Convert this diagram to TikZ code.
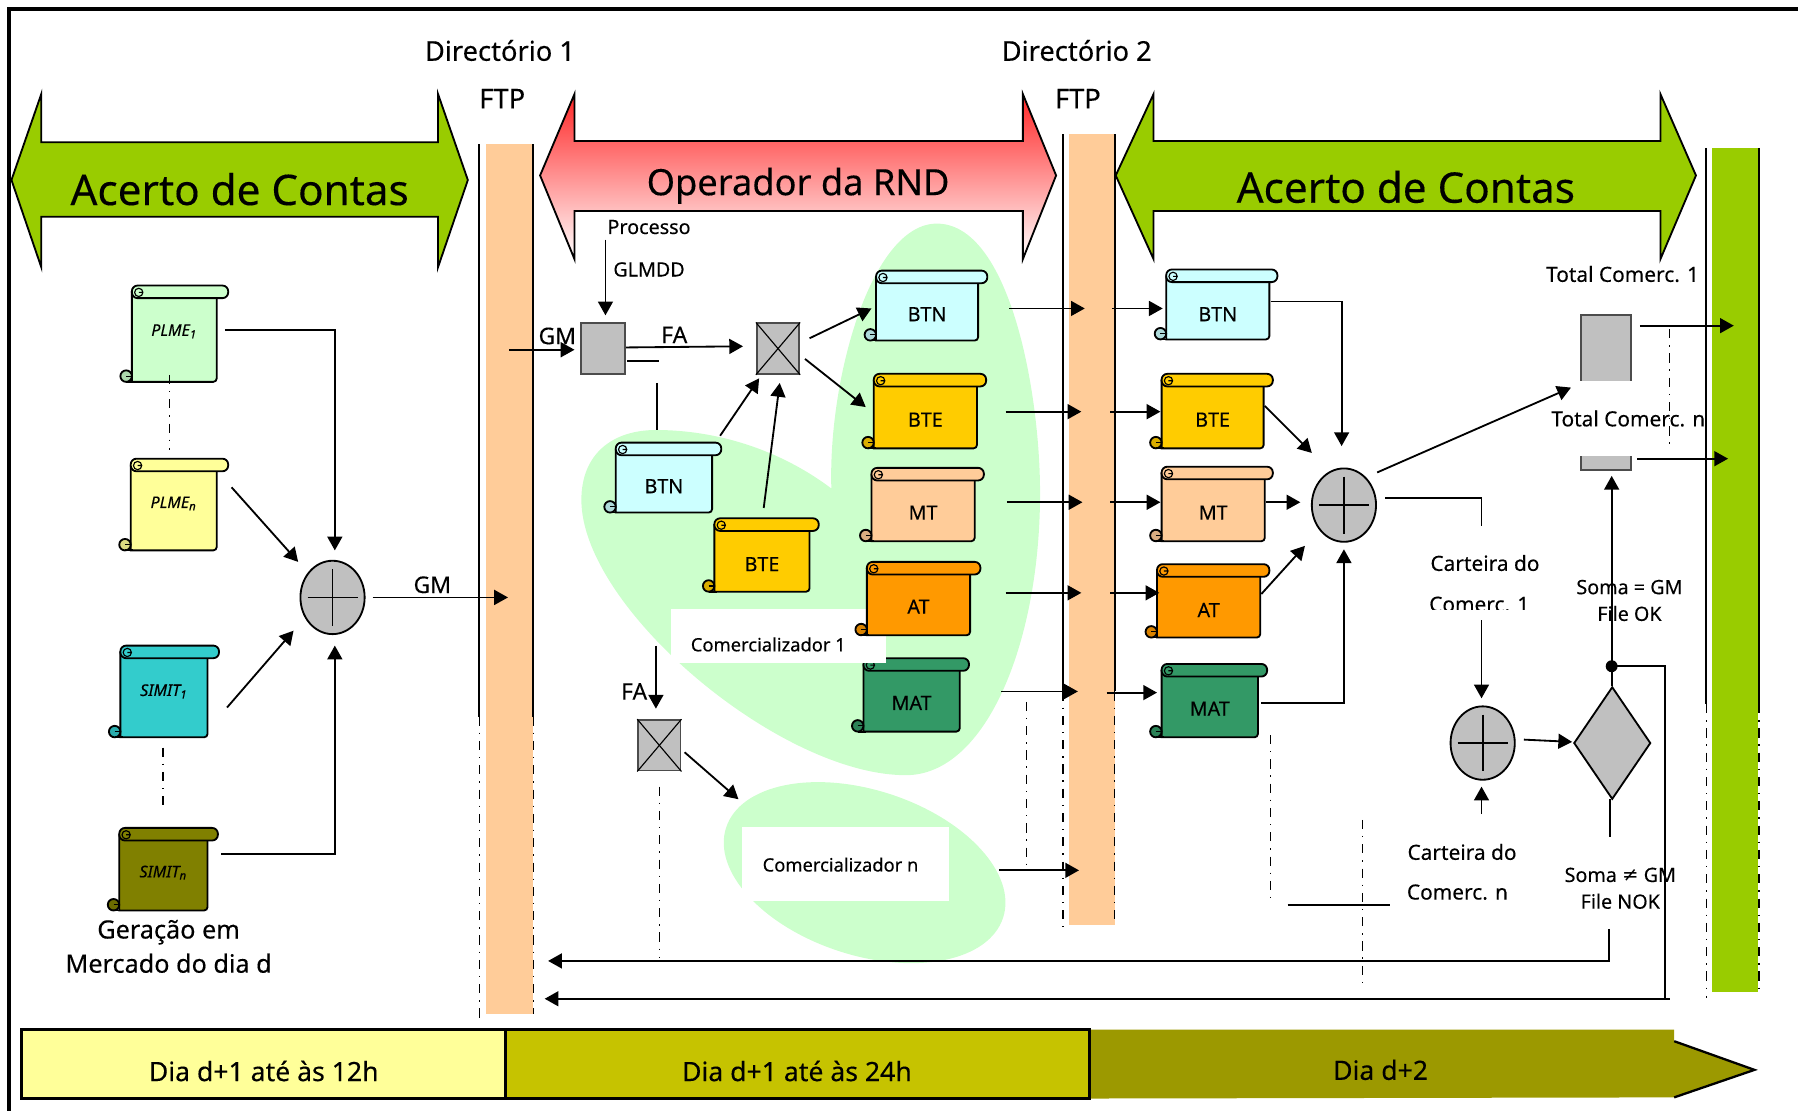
\documentclass[tikz,border=0pt]{standalone}
\usepackage{fontspec}
\setmainfont{Noto Sans}[FakeBold=.25]
\newfontfamily\symfont{DejaVu Sans}
\usepackage{xcolor}
\usetikzlibrary{arrows.meta}
\usetikzlibrary{shapes.geometric}

\definecolor{bargreen}{HTML}{99CC00}
\definecolor{barorange}{HTML}{FFCC99}
\definecolor{blobgreen}{HTML}{CCFFCC}
\definecolor{boxgray}{HTML}{C0C0C0}
\definecolor{btncol}{HTML}{CCFFFF}
\definecolor{btecol}{HTML}{FFCC00}
\definecolor{atcol}{HTML}{FF9900}
\definecolor{matcol}{HTML}{339966}
\definecolor{paleyellow}{HTML}{FFFF99}
\definecolor{simitteal}{HTML}{33CCCC}
\definecolor{simitolive}{HTML}{808000}
\definecolor{dayolive}{HTML}{C6C300}
\definecolor{daydark}{HTML}{9C9900}

\newcommand{\scrollfont}{\fontsize{8.6}{10}\selectfont}
\newcommand{\sourcefont}{\fontsize{7}{9}\selectfont\itshape}

\tikzset{
	flow/.style={-{Triangle[length=6pt,width=6.5pt]},line width=.8pt},
	plainline/.style={line width=.8pt},
	dashdot/.style={line width=.6pt,dash pattern=on 4pt off 3pt on .6pt off 3pt},
	barline/.style={line width=.8pt},
	banner/.style={draw=black,line width=.8pt},
	lbl/.style={inner sep=0pt,align=center},
	biglbl/.style={lbl,font=\fontsize{18.4}{20}\selectfont},
	oplbl/.style={lbl,font=\fontsize{15.8}{18}\selectfont},
	dirlbl/.style={lbl,font=\fontsize{11.9}{14}\selectfont},
	midlbl/.style={lbl,font=\fontsize{11}{13}\selectfont},
	smalllbl/.style={lbl,font=\fontsize{8.6}{10}\selectfont},
	notelbl/.style={lbl,font=\fontsize{9.1}{11}\selectfont},
	tinylbl/.style={lbl,font=\fontsize{8}{10}\selectfont},
	daylbl/.style={lbl,font=\fontsize{11.6}{13}\selectfont},
	flowlbl/.style={lbl,font=\fontsize{10}{12}\selectfont},
	scrollline/.style={draw=black,line width=.8pt},
	graybox/.style={draw=black!70,fill=boxgray,line width=.8pt,inner sep=0pt},
	sumnode/.style={ellipse,draw=black,fill=boxgray,line width=.8pt,inner sep=0pt,minimum width=28pt,minimum height=32pt},
	whitebox/.style={fill=white,inner sep=0pt},
}

% scroll: name, left, top, right, bottom, end of roll, colour, label y, text
\newcommand{\scrolldoc}[9]{
	\draw[scrollline,fill=#7] ({#2},{#3+6}) -- ({#2},{#5}) [rounded corners=1.5pt] -- ({#4},{#5}) -- ({#4},{#3+8}) [sharp corners] -- cycle;
	\draw[scrollline,fill=#7,rounded corners=2.5pt] ({#2},{#3}) rectangle ({#6},{#3+11});
	\draw[scrollline,fill=#7!85!black] ({#2-5},{#5-5}) circle (2.5pt);
	\draw[scrollline] ({#2-5},{#5}) -- ({#2+2},{#5});
	\draw[line width=.5pt] ({#2-5},{#5-5}) -- +(5,0);
	\draw[line width=.5pt] ({#2+6},{#3+6}) circle (1.8pt) -- +(4,0);
	\node[lbl] (#1) at ({(#2+#4)/2},{#8}) {#9};
}

\begin{document}
\begin{tikzpicture}[x=.5pt,y=-.5pt]
	\useasboundingbox (0,0) rectangle (1568,969);

	\draw[line width=1.5pt] (1568,8) -- (8,8) -- (8,969);

	% orange and green columns
	\fill[barorange] (424,126) rectangle (465,884);
	\fill[barorange] (932,117) rectangle (972,807);
	\fill[bargreen] (1493,129) rectangle (1533,865);

	% banners
	\draw[banner,fill=bargreen] (10,157) -- (36,82) -- (36,124) -- (382,124) -- (382,82) -- (408,157) -- (382,233) -- (382,189) -- (36,189) -- (36,233) -- cycle;
	\draw[banner,top color=red!85,middle color=red!25,bottom color=white] (471,153) -- (501,82) -- (501,123) -- (892,123) -- (892,82) -- (921,153) -- (892,226) -- (892,184) -- (501,184) -- (501,226) -- cycle;
	\draw[banner,fill=bargreen] (973,153) -- (1006,82) -- (1006,123) -- (1448,123) -- (1448,82) -- (1479,153) -- (1448,226) -- (1448,184) -- (1006,184) -- (1006,226) -- cycle;
	\node[biglbl] (contasA) at (209,165) {Acerto de Contas};
	\node[oplbl] (operador) at (696,162) {Operador da RND};
	\node[biglbl] (contasB) at (1226,163) {Acerto de Contas};

	\node[dirlbl] (dirA) at (436,44) {Directório 1};
	\node[dirlbl] (ftpA) at (438,86) {FTP};
	\node[dirlbl] (dirB) at (939,44) {Directório 2};
	\node[dirlbl] (ftpB) at (940,86) {FTP};

	% comercializador regions
	\fill[blobgreen] (725,426) .. controls (722,330) and (760,195) .. (817,195) .. controls (880,195) and (907,340) .. (907,430) .. controls (907,560) and (860,676) .. (790,676) .. controls (680,676) and (507,530) .. (507,436) .. controls (507,395) and (535,375) .. (572,375) .. controls (625,375) and (680,392) .. (725,426) -- cycle;
	\fill[blobgreen,rotate around={-18:(754,761)}] (754,761) ellipse (127 and 72);

	% scrolls of the first column
	\scrolldoc{plmeA}{115}{249}{189}{333}{199}{blobgreen}{289}{\sourcefont PLME\textsubscript{1}}
	\scrolldoc{plmeB}{114}{400}{189}{480}{199}{paleyellow}{439}{\sourcefont PLME\textsubscript{n}}
	\scrolldoc{simitA}{105}{563}{181}{643}{191}{simitteal}{603}{\sourcefont SIMIT\textsubscript{1}}
	\scrolldoc{simitB}{104}{722}{181}{794}{190}{simitolive}{761}{\sourcefont SIMIT\textsubscript{n}}

	% scrolls of the operator
	\scrolldoc{btnA}{537}{386}{621}{447}{629}{btncol}{424}{\scrollfont BTN}
	\scrolldoc{bteA}{623}{452}{706}{516}{714}{btecol}{492}{\scrollfont BTE}
	\scrolldoc{btnB}{764}{236}{853}{297}{861}{btncol}{274}{\scrollfont BTN}
	\scrolldoc{bteB}{762}{326}{852}{391}{860}{btecol}{366}{\scrollfont BTE}
	\scrolldoc{mtB}{760}{408}{850}{472}{858}{barorange}{447}{\scrollfont MT}
	\scrolldoc{matB}{753}{574}{837}{638}{845}{matcol}{613}{\scrollfont MAT}
	\node[whitebox,minimum width=94pt,minimum height=23.5pt] (comAbox) at (679,554.5) {};
	\node[tinylbl] (comAtxt) at (670,562) {Comercializador 1};
	\scrolldoc{atB}{756}{490}{846}{554}{855}{atcol}{529}{\scrollfont AT}
	\node[whitebox,minimum width=90.5pt,minimum height=32.5pt] (comBbox) at (737.5,753.5) {};
	\node[tinylbl] (comBtxt) at (733,754) {Comercializador n};

	% scrolls of the last column
	\scrolldoc{btnC}{1017}{235}{1107}{296}{1114}{btncol}{274}{\scrollfont BTN}
	\scrolldoc{bteC}{1013}{326}{1102}{391}{1110}{btecol}{366}{\scrollfont BTE}
	\scrolldoc{mtC}{1013}{407}{1103}{472}{1110}{barorange}{447}{\scrollfont MT}
	\scrolldoc{atC}{1009}{492}{1099}{556}{1107}{atcol}{532}{\scrollfont AT}
	\scrolldoc{matC}{1013}{579}{1097}{643}{1105}{matcol}{618}{\scrollfont MAT}

	% gray boxes and sums
	\node[graybox,minimum width=19pt,minimum height=22pt] (gmbox) at (526,304) {};
	\node[graybox,minimum width=18.5pt,minimum height=22pt] (crossA) at (678.5,304) {};
	\node[graybox,minimum width=18.5pt,minimum height=22pt] (crossB) at (575,650) {};
	\foreach \cr in {crossA,crossB} {
		\draw[line width=.5pt] (\cr.north west) -- (\cr.south east);
		\draw[line width=.5pt] (\cr.north east) -- (\cr.south west);
	}
	\node[sumnode] (sumA) at (290,521) {};
	\node[sumnode] (sumB) at (1172,440.5) {};
	\node[sumnode] (sumC) at (1293,648) {};
	\foreach \su in {sumA,sumB,sumC} {
		\draw[line width=.8pt,shorten <=3.5pt,shorten >=3.5pt] (\su.west) -- (\su.east);
		\draw[line width=.8pt,shorten <=4pt,shorten >=4pt] (\su.north) -- (\su.south);
	}
	\node[diamond,draw=black,fill=boxgray,line width=.8pt,inner sep=0pt,minimum width=33.5pt,minimum height=49pt,shape aspect=.68] (check) at (1406,648) {};
	\node[graybox,minimum width=21.5pt,minimum height=67.5pt] (totals) at (1400.5,342.5) {};
	\node[whitebox,notelbl,minimum width=67pt,minimum height=33pt] (totalB) at (1420,365) {Total Comerc. n};
	\node[notelbl] (totalA) at (1415,239) {Total Comerc. 1};
	\fill (1405.5,581) circle (2.6pt);
	\coordinate (okdot) at (1405.5,581);

	% column rules
	\foreach \px/\pa/\pb/\pc in {418/126/625/892,465/126/625/884,927/117/603/808,972/117/603/806,1488/129/614/870,1534/129/614/864} {
		\draw[barline] (\px,\pa) -- (\px,\pb);
		\draw[dashdot] (\px,\pb) -- (\px,\pc);
	}

	% free ends of the connectors
	\foreach \nm/\px/\py in {
		plmeAout/196/288,plmeBout/202/425,simitAout/198/617,simitBout/193/745,
		sumAin/292/480,sumAinB/260/490,sumAinC/256/550,sumAinD/292/563,
		sumAout/325/521,barAgm/443/521,
		gmIn/444/305,gmTip/501/305,glmddTop/528/209,glmddTip/528/275,
		faOut/546/303,faTip/648/302,shortA/547/315,shortB/575/315,
		faDownA/573/334,faDownB/573/375,faDownC/572/563,faDownD/572/618,
		btnOut/628/380,btnTip/662/330,bteOut/666/443,bteTip/680/334,
		crossOutA/706/295,crossTipA/760/269,crossOutB/702/313,crossTipB/755/355,
		crossBout/597/656,crossBtip/644/697,comBout/871/759,comBtip/941/759,
		btnBout/880/269,btnBtip/946/269,bteBout/877/359,bteBtip/943/359,
		mtBout/878/438,mtBtip/944/438,atBout/877/517,atBtip/943/517,
		matBout/873/603,matBtip/940/603,
		barBa/970/269,btnCtip/1014/269,barBb/968/359,bteCtip/1012/359,
		barBc/968/438,mtCtip/1012/438,barBd/968/517,atCtip/1011/517,
		barBe/965/604,matCtip/1009/604,
		btnCout/1108/263,sumBtop/1170/389,bteCout/1103/354,sumBtipB/1144/395,
		mtCout/1104/438,sumBtipC/1134/438,atCout/1100/518,sumBtipD/1138/476,
		matCout/1100/613,sumBbot/1172/479,
		sumBoutA/1201/412,sumBtipA/1370/338,sumBoutB/1208/434,cartTop/1292/459,
		cartDown/1292/541,sumCtop/1292/609,cartUp/1292/710,sumCbot/1292/686,
		sumCout/1329/645,checkIn/1371/647,
		checkTop/1405.5/598,totalsTip/1405.5/415,
		nokA/1404/697,nokB/1404/730,nokC/1403/810,nokD/1403/838,nokTip/478/838,
		loopA/1452/871,loopEnd/1456/871,loopTip/475/871,
		totalAout/1430/284,totalAtip/1512/284,totalBout/1428/400,totalBtip/1507/400,
		stubA/1123/789,stubB/1212/789
	} \coordinate (\nm) at (\px,\py);

	% connectors
	\draw[flow] (plmeAout) -| (sumAin);
	\draw[flow] (plmeBout) -- (sumAinB);
	\draw[flow] (simitAout) -- (sumAinC);
	\draw[flow] (simitBout) -| (sumAinD);
	\draw[flow] (sumAout) -- (barAgm);
	\draw[flow] (gmIn) -- (gmTip);
	\draw[flow] (glmddTop) -- (glmddTip);
	\draw[flow] (faOut) -- (faTip);
	\draw[plainline] (shortA) -- (shortB);
	\draw[plainline] (faDownA) -- (faDownB);
	\draw[flow] (faDownC) -- (faDownD);
	\draw[flow] (btnOut) -- (btnTip);
	\draw[flow] (bteOut) -- (bteTip);
	\draw[flow] (crossOutA) -- (crossTipA);
	\draw[flow] (crossOutB) -- (crossTipB);
	\draw[flow] (crossBout) -- (crossBtip);
	\draw[flow] (comBout) -- (comBtip);
	\foreach \from/\to in {btnBout/btnBtip,bteBout/bteBtip,mtBout/mtBtip,atBout/atBtip,matBout/matBtip,barBa/btnCtip,barBb/bteCtip,barBc/mtCtip,barBd/atCtip,barBe/matCtip}
		\draw[flow] (\from) -- (\to);
	\draw[flow] (btnCout) -| (sumBtop);
	\draw[flow] (bteCout) -- (sumBtipB);
	\draw[flow] (mtCout) -- (sumBtipC);
	\draw[flow] (atCout) -- (sumBtipD);
	\draw[flow] (matCout) -| (sumBbot);
	\draw[flow] (sumBoutA) -- (sumBtipA);
	\draw[plainline] (sumBoutB) -| (cartTop);
	\draw[flow] (cartDown) -- (sumCtop);
	\draw[flow] (cartUp) -- (sumCbot);
	\draw[flow] (sumCout) -- (checkIn);
	\draw[flow] (checkTop) -- (totalsTip);
	\draw[plainline] (nokA) -- (nokB);
	\draw[flow] (nokC) -- (nokD) -- (nokTip);
	\draw[plainline] (okdot) -| (loopA);
	\draw[flow] (loopEnd) -- (loopTip);
	\draw[flow] (totalAout) -- (totalAtip);
	\draw[flow] (totalBout) -- (totalBtip);
	\draw[plainline] (stubA) -- (stubB);

	% dash-dot guides
	\draw[dashdot] (148,327) -- (148,392);
	\draw[dashdot] (142,652) -- (142,705);
	\draw[dashdot] (575,686) -- (575,835);
	\draw[dashdot] (895,612) -- (895,758);
	\draw[dashdot] (1108,641) -- (1108,789);
	\draw[dashdot] (1188,715) -- (1188,863);
	\draw[dashdot] (1456,287) -- (1456,390);

	% labels
	\node[flowlbl] (gmA) at (377,510) {GM};
	\node[flowlbl] (gmB) at (486,293) {GM};
	\node[flowlbl] (faA) at (588,292) {FA};
	\node[flowlbl] (faB) at (553,603) {FA};
	\node[smalllbl] (proc) at (566,198) {Processo};
	\node[smalllbl] (glmdd) at (566,235) {GLMDD};
	\node[notelbl] (cartA) at (1295,491) {Carteira do};
	\node[notelbl] (cartB) at (1290,527) {Comerc. 1};
	\fill[white] (1240,532) rectangle (1345,540);
	\node[notelbl] (cartC) at (1275,743) {Carteira do};
	\node[notelbl] (cartD) at (1271,778) {Comerc. n};
	\node[smalllbl] (okA) at (1421,512) {Soma = GM};
	\node[smalllbl] (okB) at (1421,535) {File OK};
	\node[smalllbl] (nokTxtA) at (1413,763) {Soma {\symfont ≠} GM};
	\node[smalllbl] (nokTxtB) at (1413,786) {File NOK};
	\node[midlbl] (gerA) at (147,813) {Geração em};
	\node[midlbl] (gerB) at (147,840) {Mercado do dia d};

	% time line
	\fill[daydark] (950,898) -- (1460,898) -- (1460,908) -- (1530,933) -- (1460,957) -- (950,958) -- cycle;
	\draw[line width=1pt] (1460,908) -- (1530,933) -- (1460,957);
	\draw[line width=1.2pt,fill=dayolive] (441,898) rectangle (950,958);
	\draw[line width=1.2pt,fill=paleyellow] (19,898) rectangle (441,958);
	\node[daylbl] (dayA) at (230,934) {Dia d+1 até às 12h};
	\node[daylbl] (dayB) at (695,934) {Dia d+1 até às 24h};
	\node[daylbl] (dayC) at (1204,933) {Dia d+2};
\end{tikzpicture}
\end{document}
